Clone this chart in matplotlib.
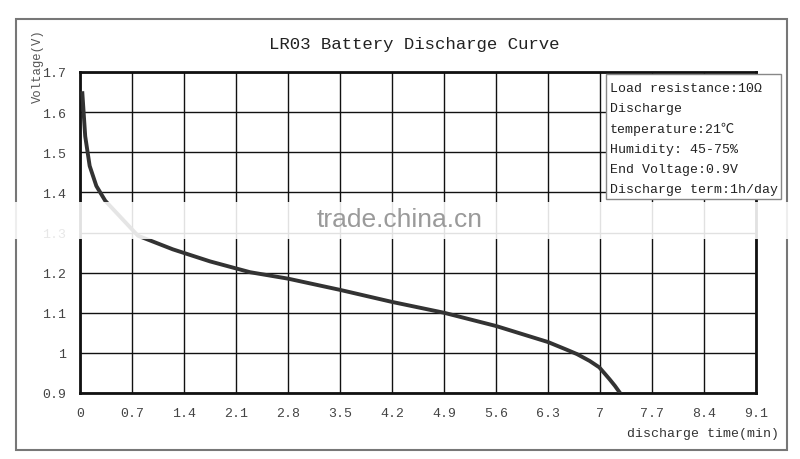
import matplotlib
matplotlib.use("Agg")
import matplotlib.pyplot as plt
from matplotlib.patches import Rectangle

# data
time_min = [0.03, 0.07, 0.13, 0.22, 0.34, 0.78, 1.25, 1.75, 2.29, 2.8, 3.5, 4.2, 4.9, 5.6, 6.3,
            6.55, 6.69, 6.86, 6.99, 7.07, 7.13, 7.2, 7.27]
voltage = [1.652, 1.54, 1.466, 1.416, 1.379, 1.292, 1.258, 1.228, 1.201, 1.185, 1.157, 1.127, 1.10, 1.067, 1.027,
           1.008, 0.997, 0.98, 0.964, 0.947, 0.934, 0.918, 0.90]
x_ticks = [0, 0.7, 1.4, 2.1, 2.8, 3.5, 4.2, 4.9, 5.6, 6.3, 7, 7.7, 8.4, 9.1]
x_tick_labels = ["0", "0.7", "1.4", "2.1", "2.8", "3.5", "4.2", "4.9", "5.6", "6.3", "7", "7.7", "8.4", "9.1"]
y_ticks = [0.9, 1.0, 1.1, 1.2, 1.3, 1.4, 1.5, 1.6, 1.7]
y_tick_labels = ["0.9", "1", "1.1", "1.2", "1.3", "1.4", "1.5", "1.6", "1.7"]
title = "LR03 Battery Discharge Curve"
info_lines = ["Load resistance:10Ω", "Discharge", "temperature:21℃", "Humidity: 45-75%",
              "End Voltage:0.9V", "Discharge term:1h/day"]

W, H = 800, 460
fig = plt.figure(figsize=(8, 4.6), dpi=100)
fig.patch.set_facecolor("white")
mono = ["Liberation Mono", "Noto Sans CJK SC", "DejaVu Sans Mono"]

def fx(px):
    return px / W

def fy(py):
    return 1 - py / H

# outer frame
fig.patches.append(Rectangle((fx(16), fy(451)), fx(787) - fx(16), fy(20) - fy(451),
                             transform=fig.transFigure, fill=False, edgecolor="#777777", lw=1.5, zorder=0))

ax = fig.add_axes([fx(80), fy(394), fx(756) - fx(80), fy(73) - fy(394)])
ax.set_xlim(0, 9.1)
ax.set_ylim(0.9, 1.7)
ax.set_xticks(x_ticks)
ax.set_xticklabels(x_tick_labels, family=mono, fontsize=9.5, color="#444444")
ax.set_yticks(y_ticks)
ax.set_yticklabels(y_tick_labels, family=mono, fontsize=9.5, color="#444444")
ax.tick_params(length=0, pad=10)
ax.grid(True, color="#111111", lw=1.0)
ax.set_axisbelow(True)
for s in ax.spines.values():
    s.set_linewidth(2)
    s.set_color("#111111")

ax.plot(time_min, voltage, color="#333333", lw=2.8, solid_capstyle="butt", solid_joinstyle="round", zorder=3)

fig.text(fx(414), fy(44), title, family=mono, fontsize=12.5, ha="center", va="center", color="#222222")
fig.text(fx(38), fy(66), "Voltage(V)", family=mono, fontsize=8.8, rotation=90,
         ha="center", va="center", color="#555555")
fig.text(fx(779), fy(434), "discharge time(min)", family=mono, fontsize=9.5,
         ha="right", va="center", color="#333333")

# info box
fig.patches.append(Rectangle((fx(606), fy(200)), fx(781) - fx(606), fy(75) - fy(200),
                             transform=fig.transFigure, facecolor="white", edgecolor="#888888", lw=1.0, zorder=5))
for i, line in enumerate(info_lines):
    fig.text(fx(610), fy(89 + 20.2 * i), line, family=mono, fontsize=9.5, ha="left", va="center",
             color="#222222", zorder=6)

# watermark band
fig.patches.append(Rectangle((0, fy(240)), 1, fy(203) - fy(240), transform=fig.transFigure,
                             facecolor="white", edgecolor="none", alpha=0.88, zorder=7))
fig.text(fx(400), fy(220), "trade.china.cn", family=["Liberation Sans", "DejaVu Sans"], fontsize=19,
         ha="center", va="center", color="#9a9a9a", zorder=8)

fig.savefig("out.png", dpi=100)
